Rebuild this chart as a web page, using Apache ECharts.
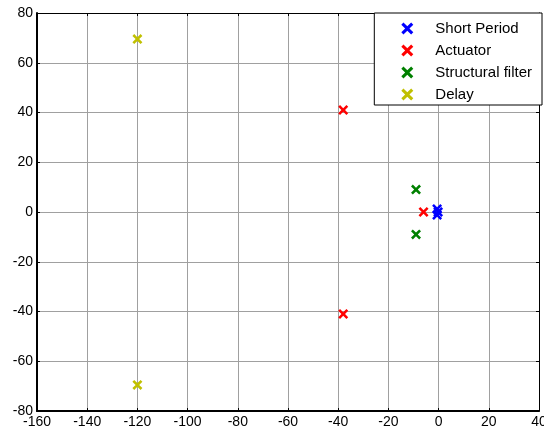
<!DOCTYPE html>
<html>
<head>
<meta charset="UTF-8">
<title>Poles</title>
<script src="https://cdn.jsdelivr.net/npm/echarts@6/dist/echarts.min.js"></script>
<style>
  html, body { margin: 0; padding: 0; background: #fff; }
  #container { width: 544px; height: 437px; }
</style>
</head>
<body>
<div id="container"></div>
<script type="text/javascript">
// pole locations [real, imag]
var shortPeriod = [[-0.6, 1.2], [-0.6, -1.2], [-0.2, 0]];
var actuator = [[-38, 41], [-38, -41], [-6, 0]];
var structFilter = [[-9, 9], [-9, -9]];
var delay = [[-120, 69.5], [-120, -69.5]];

var names = ['Short Period', 'Actuator', 'Structural filter', 'Delay'];
var colors = ['#0000ff', '#ff0000', '#008000', '#c0c000'];
var sets = [shortPeriod, actuator, structFilter, delay];

var xMin = -160, xMax = 40, xStep = 20;
var yMin = -80, yMax = 80, yStep = 20;

// x marker
var cross = 'path://M1.8,0L5,3.2L8.2,0L10,1.8L6.8,5L10,8.2L8.2,10L5,6.8L1.8,10L0,8.2L3.2,5L0,1.8Z';

var dom = document.getElementById('container');
var myChart = echarts.init(dom);

var lbl = { color: '#000', fontFamily: 'Liberation Sans, Arial, sans-serif', fontSize: 14 };

var series = [];
for (var i = 0; i < sets.length; i++) {
	series.push({
		name: names[i],
		type: 'scatter',
		xAxisIndex: 0,
		yAxisIndex: 0,
		symbol: cross,
		symbolSize: 10,
		itemStyle: { color: colors[i], opacity: 1 },
		data: sets[i]
	});
}

var option = {
	animation: false,
	grid: { left: 37, right: 5, top: 13, bottom: 26, outerBoundsMode: 'none' },
	legend: {
		data: names,
		orient: 'vertical',
		right: 2,
		top: 13,
		backgroundColor: '#fff',
		borderColor: '#000',
		borderWidth: 1,
		padding: [8, 10, 3, 27],
		itemWidth: 12,
		itemHeight: 12,
		itemGap: 7,
		icon: cross,
		textStyle: { color: '#000', fontFamily: 'Liberation Sans, Arial, sans-serif', fontSize: 15, padding: [0, 0, 0, 17] }
	},
	xAxis: [{
		type: 'value', min: xMin, max: xMax, interval: xStep,
		position: 'bottom',
		axisLine: { onZero: false, lineStyle: { color: '#000', width: 2 } },
		axisTick: { inside: true, length: 3, lineStyle: { color: '#000' } },
		axisLabel: Object.assign({ margin: 4 }, lbl),
		splitLine: { show: true, lineStyle: { color: '#a0a0a0', width: 1 } }
	}, {
		type: 'value', min: xMin, max: xMax, interval: xStep,
		position: 'top',
		axisLine: { onZero: false, lineStyle: { color: '#000', width: 1 } },
		axisTick: { inside: true, length: 3, lineStyle: { color: '#000' } },
		axisLabel: { show: false },
		splitLine: { show: false }
	}],
	yAxis: [{
		type: 'value', min: yMin, max: yMax, interval: yStep,
		position: 'left',
		axisLine: { onZero: false, lineStyle: { color: '#000', width: 2 } },
		axisTick: { inside: true, length: 3, lineStyle: { color: '#000' } },
		axisLabel: Object.assign({ margin: 4 }, lbl),
		splitLine: { show: true, lineStyle: { color: '#a0a0a0', width: 1 } }
	}, {
		type: 'value', min: yMin, max: yMax, interval: yStep,
		position: 'right',
		axisLine: { onZero: false, lineStyle: { color: '#000', width: 1 } },
		axisTick: { inside: true, length: 3, lineStyle: { color: '#000' } },
		axisLabel: { show: false },
		splitLine: { show: false }
	}],
	series: series
};

myChart.setOption(option, true);
</script>
</body>
</html>
